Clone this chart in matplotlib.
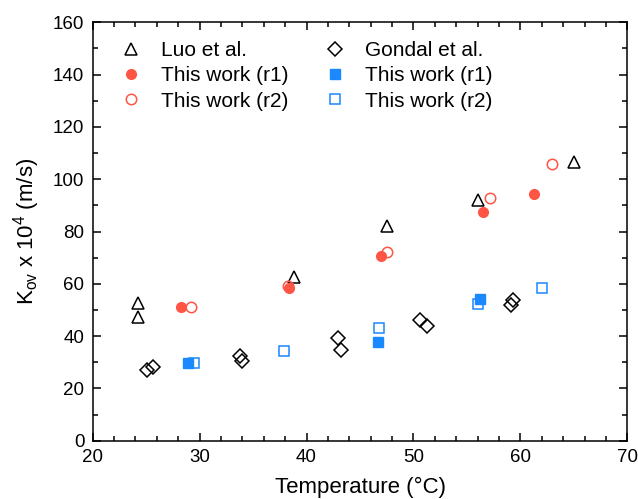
import numpy as np
import matplotlib
matplotlib.use("Agg")
import matplotlib.pyplot as plt
from matplotlib.ticker import MultipleLocator

plt.rcParams['font.family'] = ['Liberation Sans', 'DejaVu Sans']
plt.rcParams['mathtext.default'] = 'regular'

red = '#FF5545'
blue = '#1A88FF'

# Luo et al. (open triangles)
luo_T = [24.2, 24.2, 38.8, 47.5, 56.0, 65.0]
luo_K = [52.8, 47.2, 62.5, 82.0, 92.0, 106.5]

# Gondal et al. (open diamonds)
gon_T = [25.1, 25.6, 33.8, 34.0, 42.9, 43.2, 50.6, 51.3, 59.1, 59.3]
gon_K = [27.2, 28.3, 32.5, 30.3, 39.3, 34.5, 46.3, 44.0, 52.0, 54.0]

# This work, red circles
r1c_T = [28.3, 38.4, 47.0, 56.5, 61.3]
r1c_K = [51.0, 58.3, 70.5, 87.5, 94.5]
r2c_T = [29.2, 38.3, 47.5, 57.2, 63.0]
r2c_K = [51.0, 59.0, 72.0, 93.0, 106.0]

# This work, blue squares
r1s_T = [28.9, 46.7, 56.2]
r1s_K = [29.8, 37.8, 54.3]
r2s_T = [29.5, 37.9, 46.8, 56.0, 62.0]
r2s_K = [29.8, 34.3, 43.0, 52.3, 58.3]

fig = plt.figure(figsize=(6.38, 4.99), dpi=100)
ax = fig.add_axes([0.1453, 0.1168, 0.838, 0.8385])

ms = 8
ax.plot(luo_T, luo_K, ls='none', marker='^', ms=ms, mfc='none', mec='black',
        mew=1.1, label='Luo et al.')
ax.plot(r1c_T, r1c_K, ls='none', marker='o', ms=7, mfc=red, mec=red,
        label='This work (r1)')
ax.plot(r2c_T, r2c_K, ls='none', marker='o', ms=7.5, mfc='none', mec=red,
        mew=1.1, label='This work (r2)')
ax.plot(gon_T, gon_K, ls='none', marker='D', ms=7, mfc='none', mec='black',
        mew=1.1, label='Gondal et al.')
ax.plot(r1s_T, r1s_K, ls='none', marker='s', ms=7, mfc=blue, mec=blue,
        label='This work (r1)')
ax.plot(r2s_T, r2s_K, ls='none', marker='s', ms=7, mfc='none', mec=blue,
        mew=1.1, label='This work (r2)')

ax.set_xlim(20, 70)
ax.set_ylim(0, 160)
ax.xaxis.set_major_locator(MultipleLocator(10))
ax.xaxis.set_minor_locator(MultipleLocator(2))
ax.yaxis.set_major_locator(MultipleLocator(20))
ax.yaxis.set_minor_locator(MultipleLocator(10))
ax.tick_params(which='both', direction='in', top=True, right=True,
               labelsize=13.5, width=1.1, colors='black', pad=6)
ax.tick_params(which='major', length=6)
ax.tick_params(which='minor', length=3.5)
for s in ax.spines.values():
    s.set_linewidth(1.1)

ax.set_xlabel('Temperature (°C)', fontsize=16, labelpad=8)
ax.set_ylabel('K$_{ov}$ x 10$^{4}$ (m/s)', fontsize=16, labelpad=8)

ax.legend(loc='upper left', ncol=2, frameon=False, fontsize=15,
          handlelength=1.2, handletextpad=0.84, columnspacing=1.65,
          labelspacing=0.3, borderpad=0, borderaxespad=0,
          bbox_to_anchor=(0.048, 0.955))

fig.savefig('out.png', dpi=100)
